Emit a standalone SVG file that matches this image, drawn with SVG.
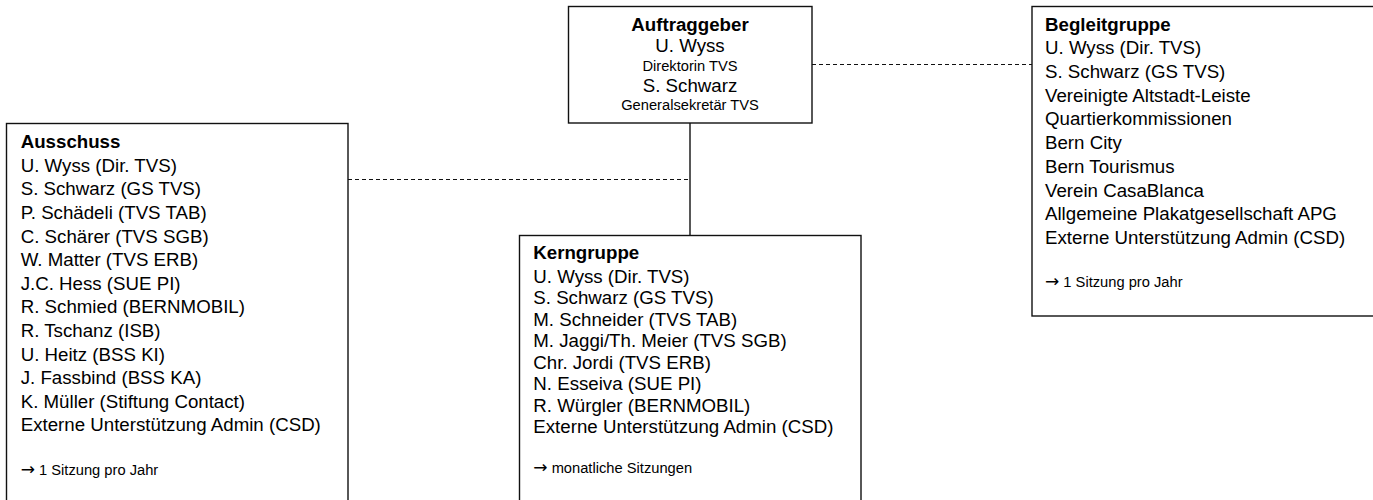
<svg xmlns="http://www.w3.org/2000/svg" width="1373" height="500" viewBox="0 0 1373 500">
<style>
.box{fill:#fff;stroke:#111;stroke-width:1.4}
.t{font-family:"Liberation Sans",Arial,sans-serif;font-size:18.7px;fill:#000}
.b{font-weight:bold}
.s{font-size:14.7px}
.c{text-anchor:middle}
.ar{font-family:"DejaVu Sans",sans-serif;font-size:17px}
.solid{stroke:#111;stroke-width:1.4;fill:none}
.dash{stroke:#111;stroke-width:1.2;fill:none;stroke-dasharray:4 3}
</style>
<rect width="1373" height="500" fill="#fff"/>
<g id="connectors">
<line class="solid" x1="690" y1="123" x2="690" y2="235.5"/>
<line class="dash" x1="348" y1="179.5" x2="690" y2="179.5"/>
<line class="dash" x1="812" y1="64.5" x2="1032" y2="64.5"/>
</g>
<g id="auftraggeber">
<rect class="box" x="568.5" y="6.5" width="243.5" height="116.5"/>
<text class="t b c" x="690" y="31">Auftraggeber</text>
<text class="t c" x="690" y="52">U. Wyss</text>
<text class="t s c" x="690" y="71">Direktorin TVS</text>
<text class="t c" x="690" y="92">S. Schwarz</text>
<text class="t s c" x="690" y="110">Generalsekretär TVS</text>
</g>
<g id="begleitgruppe">
<rect class="box" x="1032" y="6.5" width="360" height="309.5"/>
<text class="t b" x="1045" y="30.5">Begleitgruppe</text>
<text class="t" x="1045" y="54.3">U. Wyss (Dir. TVS)</text>
<text class="t" x="1045" y="78">S. Schwarz (GS TVS)</text>
<text class="t" x="1045" y="101.7">Vereinigte Altstadt-Leiste</text>
<text class="t" x="1045" y="125.4">Quartierkommissionen</text>
<text class="t" x="1045" y="149.1">Bern City</text>
<text class="t" x="1045" y="172.8">Bern Tourismus</text>
<text class="t" x="1045" y="196.5">Verein CasaBlanca</text>
<text class="t" x="1045" y="220.2">Allgemeine Plakatgesellschaft APG</text>
<text class="t" x="1045" y="243.9">Externe Unterstützung Admin (CSD)</text>
<text class="t s" x="1045" y="287"><tspan class="ar">→</tspan> 1 Sitzung pro Jahr</text>
</g>
<g id="ausschuss">
<rect class="box" x="6.5" y="123.5" width="341.5" height="400"/>
<text class="t b" x="20.7" y="148">Ausschuss</text>
<text class="t" x="20.7" y="171.7">U. Wyss (Dir. TVS)</text>
<text class="t" x="20.7" y="195.3">S. Schwarz (GS TVS)</text>
<text class="t" x="20.7" y="218.9">P. Schädeli (TVS TAB)</text>
<text class="t" x="20.7" y="242.5">C. Schärer (TVS SGB)</text>
<text class="t" x="20.7" y="266.1">W. Matter (TVS ERB)</text>
<text class="t" x="20.7" y="289.7">J.C. Hess (SUE PI)</text>
<text class="t" x="20.7" y="313.3">R. Schmied (BERNMOBIL)</text>
<text class="t" x="20.7" y="336.9">R. Tschanz (ISB)</text>
<text class="t" x="20.7" y="360.5">U. Heitz (BSS KI)</text>
<text class="t" x="20.7" y="384.1">J. Fassbind (BSS KA)</text>
<text class="t" x="20.7" y="407.7">K. Müller (Stiftung Contact)</text>
<text class="t" x="20.7" y="431.3">Externe Unterstützung Admin (CSD)</text>
<text class="t s" x="20.7" y="475"><tspan class="ar">→</tspan> 1 Sitzung pro Jahr</text>
</g>
<g id="kerngruppe">
<rect class="box" x="519.5" y="235.5" width="341.5" height="300"/>
<text class="t b" x="533.3" y="259.3">Kerngruppe</text>
<text class="t" x="533.3" y="282.7">U. Wyss (Dir. TVS)</text>
<text class="t" x="533.3" y="304.2">S. Schwarz (GS TVS)</text>
<text class="t" x="533.3" y="325.7">M. Schneider (TVS TAB)</text>
<text class="t" x="533.3" y="347.2">M. Jaggi/Th. Meier (TVS SGB)</text>
<text class="t" x="533.3" y="368.7">Chr. Jordi (TVS ERB)</text>
<text class="t" x="533.3" y="390.2">N. Esseiva (SUE PI)</text>
<text class="t" x="533.3" y="411.7">R. Würgler (BERNMOBIL)</text>
<text class="t" x="533.3" y="433.3">Externe Unterstützung Admin (CSD)</text>
<text class="t s" x="533.3" y="473.3"><tspan class="ar">→</tspan> monatliche Sitzungen</text>
</g>
</svg>
